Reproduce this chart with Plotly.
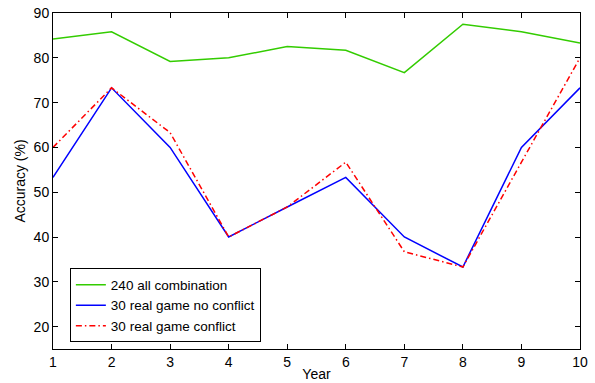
import plotly.graph_objects as go

years = [1, 2, 3, 4, 5, 6, 7, 8, 9, 10]
all_combination = [84.2, 85.8, 79.2, 80.0, 82.5, 81.7, 76.7, 87.5, 85.8, 83.3]
no_conflict = [53.3, 73.3, 60.0, 40.0, 46.7, 53.3, 40.0, 33.3, 60.0, 73.3]
conflict = [60.0, 73.3, 63.3, 40.0, 46.7, 56.7, 36.7, 33.3, 56.7, 80.0]
y_ticks = [20, 30, 40, 50, 60, 70, 80, 90]

fig = go.Figure()
fig.add_trace(go.Scatter(x=years, y=all_combination, mode="lines", name="240 all combination",
                         line=dict(color="#33cc00", width=1.5)))
fig.add_trace(go.Scatter(x=years, y=no_conflict, mode="lines", name="30 real game no conflict",
                         line=dict(color="#0000ff", width=1.5)))
fig.add_trace(go.Scatter(x=years, y=conflict, mode="lines", name="30 real game conflict",
                         line=dict(color="#ff0000", width=1.5, dash="6px,3px,1.5px,3px")))

axis_common = dict(showline=True, linecolor="black", linewidth=1, mirror="ticks",
                   ticks="inside", ticklen=5, tickcolor="black", showgrid=False, zeroline=False,
                   automargin=False, tickfont=dict(size=14, color="black"))
fig.update_xaxes(range=[1, 10], tickvals=years, title=dict(text="Year", standoff=0,
                 font=dict(size=14, color="black")), **axis_common)
fig.update_yaxes(range=[15, 90], tickvals=y_ticks, title=dict(text="Accuracy (%)", standoff=4,
                 font=dict(size=14, color="black")), **axis_common)

fig.update_layout(
    width=595, height=383,
    margin=dict(l=53, r=15, t=13, b=34),
    paper_bgcolor="white", plot_bgcolor="white",
    font=dict(family="Liberation Sans, Arial, sans-serif", size=14, color="black"),
    legend=dict(x=0.032, y=0.24, xanchor="left", yanchor="top",
                bordercolor="black", borderwidth=1, bgcolor="white",
                font=dict(size=13.5), tracegroupgap=0, itemwidth=30),
    showlegend=True,
)
fig.write_html("out.html", config={"displayModeBar": False},
               post_script="document.body.style.margin='0';document.body.style.overflow='hidden';")
